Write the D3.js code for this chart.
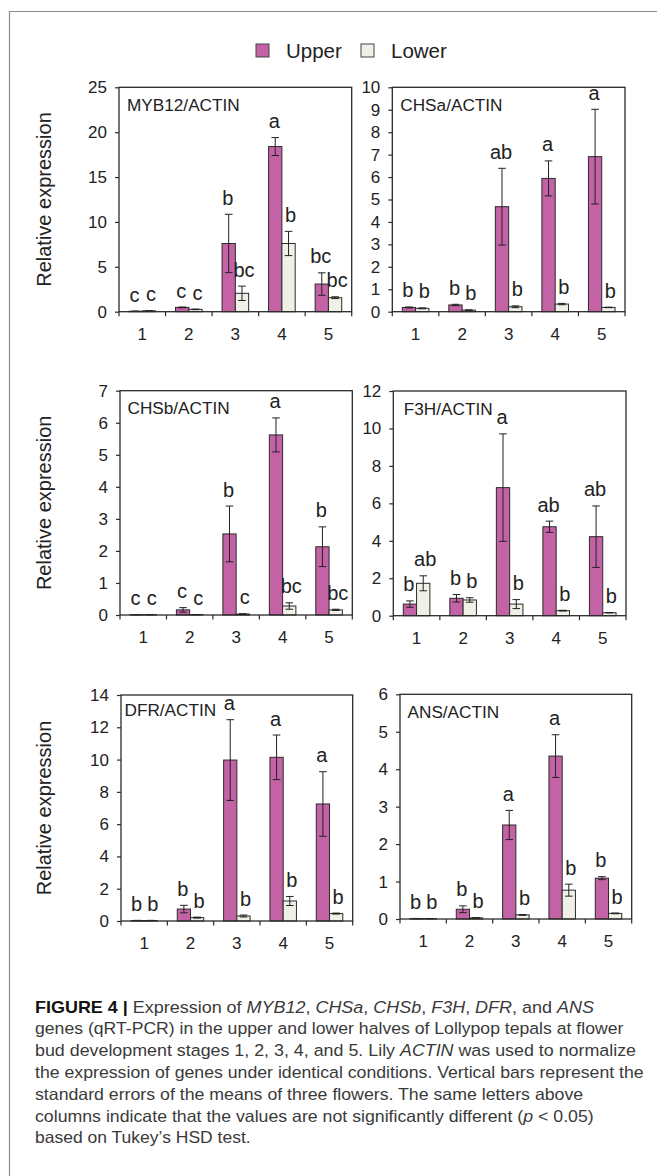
<!DOCTYPE html>
<html><head><meta charset="utf-8">
<script src="https://cdn.jsdelivr.net/npm/d3@7"></script>
<style>
body{margin:0;background:#fff}
svg{display:block}
text{font-family:"Liberation Sans",Arial,Helvetica,sans-serif}
</style>
</head><body>
<svg id="chart" width="657" height="1176"></svg>
<script>
// ---------------- DATA ----------------
const stages = ["1", "2", "3", "4", "5"];
const seriesNames = ["Upper", "Lower"];
const panelTitles = ["MYB12/ACTIN", "CHSa/ACTIN", "CHSb/ACTIN", "F3H/ACTIN", "DFR/ACTIN", "ANS/ACTIN"];
const yMaxes = [25, 10, 7, 12, 14, 6];
const ySteps = [5, 1, 1, 2, 2, 1];
const yAxisLabel = "Relative expression";

const myb12Upper = [0.05, 0.48, 7.6, 18.4, 3.08];
const myb12UpperSE = [0.01, 0.04, 3.25, 1.0, 1.25];
const myb12Lower = [0.1, 0.26, 2.05, 7.6, 1.56];
const myb12LowerSE = [0.02, 0.03, 0.8, 1.35, 0.1];
const myb12UpperLetters = ["c", "c", "b", "a", "bc"];
const myb12LowerLetters = ["c", "c", "bc", "b", "bc"];

const chsaUpper = [0.19, 0.3, 4.68, 5.94, 6.91];
const chsaUpperSE = [0.02, 0.03, 1.71, 0.78, 2.11];
const chsaLower = [0.15, 0.07, 0.22, 0.34, 0.19];
const chsaLowerSE = [0.02, 0.01, 0.04, 0.03, 0.01];
const chsaUpperLetters = ["b", "b", "ab", "a", "a"];
const chsaLowerLetters = ["b", "b", "b", "b", "b"];

const chsbUpper = [0.01, 0.16, 2.53, 5.62, 2.13];
const chsbUpperSE = [0.005, 0.07, 0.87, 0.53, 0.62];
const chsbLower = [0.01, 0.01, 0.03, 0.28, 0.16];
const chsbLowerSE = [0.003, 0.003, 0.01, 0.1, 0.02];
const chsbUpperLetters = ["c", "c", "b", "a", "b"];
const chsbLowerLetters = ["c", "c", "c", "bc", "bc"];

const f3hUpper = [0.62, 0.93, 6.84, 4.75, 4.22];
const f3hUpperSE = [0.17, 0.2, 2.87, 0.3, 1.64];
const f3hLower = [1.73, 0.84, 0.62, 0.27, 0.16];
const f3hLowerSE = [0.4, 0.12, 0.24, 0.02, 0.01];
const f3hUpperLetters = ["b", "b", "a", "ab", "ab"];
const f3hLowerLetters = ["ab", "b", "b", "b", "b"];

const dfrUpper = [0.03, 0.74, 9.97, 10.14, 7.25];
const dfrUpperSE = [0.01, 0.23, 2.5, 1.38, 2.0];
const dfrLower = [0.03, 0.21, 0.31, 1.24, 0.46];
const dfrLowerSE = [0.01, 0.03, 0.06, 0.28, 0.03];
const dfrUpperLetters = ["b", "b", "a", "a", "a"];
const dfrLowerLetters = ["b", "b", "b", "b", "b"];

const ansUpper = [0.01, 0.26, 2.51, 4.35, 1.09];
const ansUpperSE = [0.005, 0.09, 0.39, 0.57, 0.04];
const ansLower = [0.01, 0.03, 0.11, 0.77, 0.15];
const ansLowerSE = [0.003, 0.005, 0.01, 0.16, 0.01];
const ansUpperLetters = ["b", "b", "a", "a", "b"];
const ansLowerLetters = ["b", "b", "b", "b", "b"];

// ---------------- ASSEMBLY ----------------
const upperMeans = [myb12Upper, chsaUpper, chsbUpper, f3hUpper, dfrUpper, ansUpper];
const upperSEs = [myb12UpperSE, chsaUpperSE, chsbUpperSE, f3hUpperSE, dfrUpperSE, ansUpperSE];
const lowerMeans = [myb12Lower, chsaLower, chsbLower, f3hLower, dfrLower, ansLower];
const lowerSEs = [myb12LowerSE, chsaLowerSE, chsbLowerSE, f3hLowerSE, dfrLowerSE, ansLowerSE];
const upperLetters = [myb12UpperLetters, chsaUpperLetters, chsbUpperLetters, f3hUpperLetters, dfrUpperLetters, ansUpperLetters];
const lowerLetters = [myb12LowerLetters, chsaLowerLetters, chsbLowerLetters, f3hLowerLetters, dfrLowerLetters, ansLowerLetters];

// ---------------- LAYOUT / STYLE ----------------
const layout = [
  {l: 119,   r: 351.7, t: 87.3,  b: 311.7, ylab: true,  tx: 8,   ty: 24},
  {l: 392.3, r: 625,   t: 87.3,  b: 311.7, ylab: false, tx: 8,   ty: 24},
  {l: 120,   r: 352.3, t: 390.7, b: 615,   ylab: true,  tx: 7.5, ty: 23.5},
  {l: 393.3, r: 626,   t: 391,   b: 615.7, ylab: false, tx: 10.5,ty: 23.5},
  {l: 121,   r: 352.7, t: 695,   b: 921,   ylab: true,  tx: 3.5, ty: 21},
  {l: 400,   r: 631.7, t: 694.3, b: 919,   ylab: false, tx: 7.5, ty: 24}
];
const colors = {Upper: "#c462a6", Lower: "#f1f0e7"};
const ink = "#2b2b2b";

const svg = d3.select("#chart");
svg.append("rect").attr("width", 657).attr("height", 1176).attr("fill", "#fff");

// outer frame (left + top)
svg.append("path").attr("d", "M9.5,1176 V11.5 H657")
  .attr("fill", "none").attr("stroke", "#8c8c8c").attr("stroke-width", 1.2);

// legend
const legend = svg.append("g");
const legendX = [256, 361];
seriesNames.forEach((s, i) => {
  legend.append("rect").attr("x", legendX[i]).attr("y", 44).attr("width", 13).attr("height", 13)
    .attr("fill", colors[s]).attr("stroke", "#444").attr("stroke-width", 1);
  legend.append("text").attr("x", legendX[i] + 30).attr("y", 57.5)
    .attr("font-size", 20.5).attr("fill", "#222").text(s);
});

function drawPanel(i) {
  const L = layout[i];
  const g = svg.append("g");
  const x0 = d3.scaleBand().domain(stages).range([L.l, L.r]).paddingInner(0).paddingOuter(0);
  const x1 = d3.scaleBand().domain(seriesNames).range([0, x0.bandwidth()]).paddingInner(0).paddingOuter(0.75);
  const y = d3.scaleLinear().domain([0, yMaxes[i]]).range([L.b, L.t]);

  // y axis
  const yTicks = d3.range(0, yMaxes[i] + 1e-9, ySteps[i]);
  const ya = g.append("g").attr("transform", `translate(${L.l},0)`)
    .call(d3.axisLeft(y).tickValues(yTicks).tickSize(4).tickPadding(8).tickSizeOuter(0).tickFormat(d3.format("d")));
  ya.select(".domain").remove();
  ya.selectAll("line").attr("stroke", ink).attr("stroke-width", 1.2);
  ya.selectAll("text").attr("font-size", 17).attr("fill", "#222").attr("font-family", '"Liberation Sans",Arial,sans-serif');

  // x axis labels
  const xa = g.append("g").attr("transform", `translate(0,${L.b})`)
    .call(d3.axisBottom(x0).tickSize(0).tickPadding(16).tickSizeOuter(0));
  xa.select(".domain").remove();
  xa.selectAll("text").attr("font-size", 17).attr("fill", "#222").attr("font-family", '"Liberation Sans",Arial,sans-serif');

  // boundary tick marks on x axis
  const bounds = stages.map(s => x0(s)).concat([x0.range()[1]]);
  g.append("g").selectAll("line").data(bounds).join("line")
    .attr("x1", d => d).attr("x2", d => d).attr("y1", L.b).attr("y2", L.b + 4.5)
    .attr("stroke", ink).attr("stroke-width", 1.2);

  // bars
  const rows = [];
  stages.forEach((s, k) => {
    rows.push({s, ser: "Upper", v: upperMeans[i][k], se: upperSEs[i][k], lab: upperLetters[i][k]});
    rows.push({s, ser: "Lower", v: lowerMeans[i][k], se: lowerSEs[i][k], lab: lowerLetters[i][k]});
  });
  g.append("g").selectAll("rect").data(rows).join("rect")
    .attr("x", d => x0(d.s) + x1(d.ser))
    .attr("y", d => y(d.v))
    .attr("width", x1.bandwidth())
    .attr("height", d => y(0) - y(d.v))
    .attr("fill", d => colors[d.ser])
    .attr("stroke", ink).attr("stroke-width", 1);

  // error bars
  const eb = g.append("g").attr("stroke", "#222").attr("stroke-width", 1);
  rows.forEach(d => {
    const cx = x0(d.s) + x1(d.ser) + x1.bandwidth() / 2;
    const yt = y(d.v + d.se), yb = y(Math.max(0, d.v - d.se));
    eb.append("line").attr("x1", cx).attr("x2", cx).attr("y1", yt).attr("y2", yb);
    eb.append("line").attr("x1", cx - 3.8).attr("x2", cx + 3.8).attr("y1", yt).attr("y2", yt);
    eb.append("line").attr("x1", cx - 3.8).attr("x2", cx + 3.8).attr("y1", yb).attr("y2", yb);
  });

  // significance letters
  g.append("g").selectAll("text").data(rows).join("text")
    .attr("x", d => x0(d.s) + x1(d.ser) + x1.bandwidth() / 2 + (d.ser === "Upper" ? -1 : 2))
    .attr("y", d => y(d.v + d.se) - 9.5)
    .attr("text-anchor", "middle").attr("font-size", 20).attr("fill", "#222")
    .text(d => d.lab);

  // plot box
  g.append("rect").attr("x", L.l).attr("y", L.t).attr("width", L.r - L.l).attr("height", L.b - L.t)
    .attr("fill", "none").attr("stroke", ink).attr("stroke-width", 1.3);

  // panel title
  g.append("text").attr("x", L.l + L.tx).attr("y", L.t + L.ty)
    .attr("font-size", 17.2).attr("fill", "#222").text(panelTitles[i]);

  // y label
  if (L.ylab) {
    g.append("text").attr("transform", `translate(51,${(L.t + L.b) / 2}) rotate(-90)`)
      .attr("text-anchor", "middle").attr("font-size", 20).attr("fill", "#222").text(yAxisLabel);
  }
}
d3.range(6).forEach(drawPanel);

// ---------------- CAPTION ----------------
const captionLines = [
  [["FIGURE 4 | ", "b"], ["Expression of ", "n"], ["MYB12", "i"], [", ", "n"], ["CHSa", "i"], [", ", "n"], ["CHSb", "i"], [", ", "n"], ["F3H", "i"], [", ", "n"], ["DFR", "i"], [", and ", "n"], ["ANS", "i"]],
  [["genes (qRT-PCR) in the upper and lower halves of Lollypop tepals at flower", "n"]],
  [["bud development stages 1, 2, 3, 4, and 5. Lily ", "n"], ["ACTIN", "i"], [" was used to normalize", "n"]],
  [["the expression of genes under identical conditions. Vertical bars represent the", "n"]],
  [["standard errors of the means of three flowers. The same letters above", "n"]],
  [["columns indicate that the values are not significantly different (", "n"], ["p", "i"], [" < 0.05)", "n"]],
  [["based on Tukey\u2019s HSD test.", "n"]]
];
const captionWidths = [558.7, 588, 601, 608.7, 548, 558.7, 215.5];
const cap = svg.append("g");
captionLines.forEach((segs, li) => {
  const lg = cap.append("g").attr("transform", `translate(35,${1012.5 + li * 21.8})`);
  const t = lg.append("text").attr("x", 0).attr("y", 0).attr("font-size", 16.3).attr("fill", "#3a3a3a");
  segs.forEach(([str, st]) => {
    const ts = t.append("tspan").text(str);
    if (st === "b") ts.attr("font-weight", "bold").attr("fill", "#111");
    if (st === "i") ts.attr("font-style", "italic");
  });
  const w = t.node().getComputedTextLength();
  if (w > 0) t.attr("transform", `scale(${captionWidths[li] / w},1)`);
});
</script>
</body></html>
